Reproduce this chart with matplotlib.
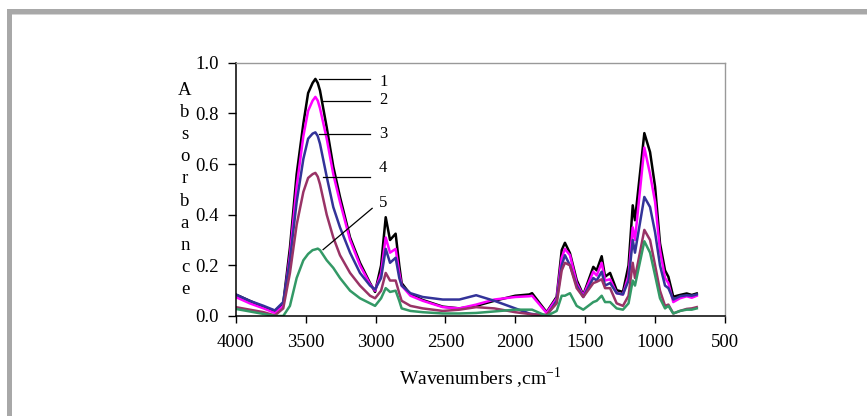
import matplotlib
matplotlib.use("Agg")
import matplotlib.pyplot as plt
from matplotlib.patches import Rectangle

plt.rcParams['font.family'] = ['Liberation Serif', 'DejaVu Serif']
plt.rcParams['mathtext.fontset'] = 'stix'

# ---------------- data ----------------
wavenumbers = [4000, 3900, 3800, 3720, 3660, 3612, 3564, 3516, 3482, 3450, 3430, 3413,
               3397, 3349, 3302, 3254, 3182, 3111, 3039, 3003, 2960, 2927, 2896, 2856,
               2830, 2813, 2750, 2662, 2519, 2400, 2280, 2150, 2000, 1900, 1880, 1776,
               1704, 1668, 1645, 1609, 1561, 1514, 1442, 1418, 1382, 1358, 1322, 1275,
               1230, 1190, 1160, 1144, 1077, 1036, 1000, 965, 929, 905, 870, 822, 774,
               738, 702]

s1 = [0.085, 0.06, 0.035, 0.02, 0.05, 0.27, 0.56, 0.76, 0.88, 0.92, 0.936, 0.92,
      0.89, 0.745, 0.59, 0.47, 0.31, 0.21, 0.13, 0.095, 0.2, 0.39, 0.30, 0.325,
      0.2, 0.13, 0.085, 0.063, 0.037, 0.03, 0.04, 0.06, 0.08, 0.085, 0.09, 0.015,
      0.076, 0.26, 0.289, 0.248, 0.142, 0.083, 0.194, 0.18, 0.236, 0.155, 0.17, 0.102,
      0.095, 0.2, 0.437, 0.378, 0.722, 0.647, 0.51, 0.287, 0.18, 0.155, 0.076, 0.083, 0.089,
      0.083, 0.089]

s2 = [0.075, 0.05, 0.03, 0.012, 0.04, 0.24, 0.51, 0.71, 0.81, 0.85, 0.865, 0.85,
      0.82, 0.70, 0.56, 0.45, 0.30, 0.2, 0.125, 0.1, 0.17, 0.31, 0.25, 0.265,
      0.17, 0.12, 0.08, 0.06, 0.035, 0.03, 0.045, 0.065, 0.075, 0.078, 0.08, 0.012,
      0.07, 0.23, 0.265, 0.24, 0.13, 0.08, 0.175, 0.16, 0.21, 0.14, 0.145, 0.09,
      0.085, 0.16, 0.35, 0.30, 0.665, 0.56, 0.45, 0.26, 0.15, 0.13, 0.055, 0.07, 0.078,
      0.072, 0.08]

s3 = [0.085, 0.06, 0.04, 0.022, 0.055, 0.22, 0.45, 0.62, 0.70, 0.72, 0.725, 0.71,
      0.68, 0.55, 0.43, 0.35, 0.25, 0.17, 0.12, 0.105, 0.15, 0.265, 0.21, 0.23,
      0.15, 0.12, 0.09, 0.075, 0.065, 0.065, 0.082, 0.06, 0.03, 0.01, 0.008, 0.0,
      0.06, 0.2, 0.24, 0.2, 0.12, 0.075, 0.15, 0.14, 0.175, 0.12, 0.13, 0.09,
      0.085, 0.14, 0.30, 0.25, 0.47, 0.43, 0.33, 0.2, 0.12, 0.11, 0.065, 0.078, 0.082,
      0.08, 0.085]

s4 = [0.035, 0.025, 0.015, 0.002, 0.03, 0.17, 0.36, 0.49, 0.545, 0.56, 0.565, 0.55,
      0.52, 0.40, 0.31, 0.24, 0.17, 0.12, 0.08, 0.07, 0.1, 0.17, 0.14, 0.14,
      0.09, 0.06, 0.04, 0.03, 0.02, 0.025, 0.035, 0.03, 0.015, 0.008, 0.006, 0.005,
      0.05, 0.18, 0.21, 0.2, 0.11, 0.075, 0.13, 0.135, 0.145, 0.11, 0.11, 0.05,
      0.04, 0.08, 0.21, 0.15, 0.34, 0.30, 0.2, 0.1, 0.04, 0.045, 0.01, 0.02, 0.028,
      0.03, 0.035]

s5 = [0.028, 0.018, 0.008, 0.0, 0.0, 0.04, 0.15, 0.22, 0.245, 0.26, 0.263, 0.266,
      0.26, 0.22, 0.19, 0.15, 0.1, 0.07, 0.05, 0.04, 0.07, 0.11, 0.095, 0.1,
      0.06, 0.03, 0.02, 0.015, 0.01, 0.01, 0.012, 0.018, 0.025, 0.025, 0.025, 0.0,
      0.02, 0.08, 0.08, 0.09, 0.04, 0.025, 0.055, 0.06, 0.08, 0.055, 0.055, 0.03,
      0.025, 0.05, 0.14, 0.12, 0.295, 0.25, 0.16, 0.07, 0.03, 0.04, 0.01, 0.02, 0.025,
      0.025, 0.03]

series = [s1, s2, s3, s4, s5]
series_colors = ['#000000', '#ff00ff', '#333399', '#993366', '#339966']

curve_labels = ['1', '2', '3', '4', '5']
# leader lines: (x_start, y_start, x_end, y_end), label position (x, y)
leader_lines = [(3404, 0.936, 3039, 0.936), (3375, 0.850, 3039, 0.850),
                (3404, 0.720, 3039, 0.720), (3375, 0.548, 3039, 0.548),
                (3375, 0.262, 3024, 0.425)]
label_pos = [(2975, 0.925), (2975, 0.853), (2975, 0.720), (2975, 0.585), (2975, 0.445)]

x_ticks = [4000, 3500, 3000, 2500, 2000, 1500, 1000, 500]
y_ticks = [0.0, 0.2, 0.4, 0.6, 0.8, 1.0]

# ---------------- figure ----------------
W, H = 867, 416
fig = plt.figure(figsize=(W / 100, H / 100), dpi=100)

# gray frame
frame_col = '#a8a8a8'
fig.patches.append(Rectangle((7 / W, 1 - 14 / H), 1 - 7 / W, 5 / H, transform=fig.transFigure,
                             facecolor=frame_col, edgecolor='none'))
fig.patches.append(Rectangle((7 / W, 1 - 15 / H), 1 - 7 / W, 1 / H, transform=fig.transFigure,
                             facecolor='#d4d4d4', edgecolor='none'))
fig.patches.append(Rectangle((7 / W, 0), 5 / W, 1 - 9 / H, transform=fig.transFigure,
                             facecolor=frame_col, edgecolor='none'))

ax = fig.add_axes([235.7 / W, 1 - 316 / H, (725 - 235.7) / W, (316 - 62.7) / H])

for s, c in zip(series, series_colors):
    ax.plot(wavenumbers, s, color=c, lw=1.8, solid_joinstyle='round')

for (x0, y0, x1, y1), (tx, ty), lab in zip(leader_lines, label_pos, curve_labels):
    ax.plot([x0, x1], [y0, y1], color='black', lw=0.9)
    ax.text(tx, ty, lab, fontsize=12, ha='left', va='center')

ax.set_xlim(4000, 500)
ax.set_ylim(0, 1.0)
ax.set_xticks(x_ticks)
ax.set_xticklabels([str(t) for t in x_ticks])
ax.set_yticks(y_ticks)
ax.set_yticklabels([f'{t:.1f}' for t in y_ticks])

ax.tick_params(axis='x', direction='out', length=5, width=1, pad=8, labelsize=13.5)
ax.tick_params(axis='y', direction='out', length=6, width=1, pad=6, labelsize=13.5)

for side in ['left', 'bottom']:
    ax.spines[side].set_color('black')
    ax.spines[side].set_linewidth(1.1)
for side in ['top', 'right']:
    ax.spines[side].set_color('#999999')
    ax.spines[side].set_linewidth(1.0)

fig.text(480 / W, 1 - 384 / H, r'Wavenumbers ,cm$^{\mathregular{-1}}$', fontsize=14,
         ha='center', va='baseline')
fig.text(185 / W, 1 - 190 / H, '\n'.join('Absorbance'), fontsize=13.5, ha='center',
         va='center', linespacing=1.4)

fig.savefig('out.png', dpi=100)
